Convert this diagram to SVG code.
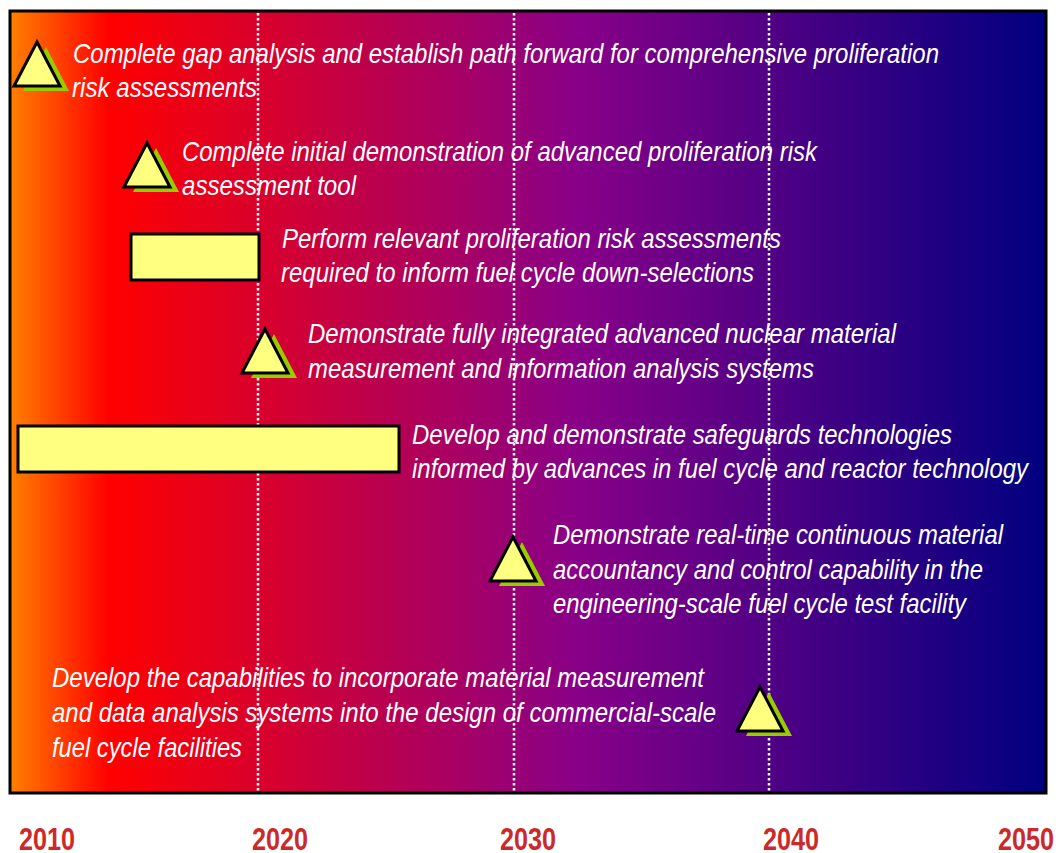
<svg xmlns="http://www.w3.org/2000/svg" width="1058" height="853" viewBox="0 0 1058 853">
  <defs>
    <linearGradient id="bg" x1="10" y1="0" x2="1046" y2="0" gradientUnits="userSpaceOnUse">
      <stop offset="0" stop-color="#FF8000"/>
      <stop offset="0.095" stop-color="#FF0000"/>
      <stop offset="0.55" stop-color="#880088"/>
      <stop offset="1" stop-color="#000080"/>
    </linearGradient>
    <g id="tri">
      <polygon class="shadow" points="9,5 32,49 -14,49"/>
      <polygon class="mark" points="0,0 23,44 -23,44"/>
    </g>
  </defs>
  <style>
    .lbl { font-family: "Liberation Sans", Arial, sans-serif; font-style: italic; font-size: 28px; fill: #FFFFFF; }
    .year { font-family: "Liberation Sans", Arial, sans-serif; font-size: 32px; font-weight: bold; fill: #CC2A2A; text-anchor: middle; }
    .grid { stroke: #FFFFFF; stroke-width: 2.5; stroke-dasharray: 2.5 2.5; fill: none; }
    .mark { fill: #FFFF80; stroke: #000000; stroke-width: 3; stroke-linejoin: miter; }
    .shadow { fill: #99CC00; }
    .bar { fill: #FFFF80; stroke: #000000; stroke-width: 3; }
  </style>

  <g id="background">
    <rect x="0" y="0" width="1058" height="853" fill="#FFFFFF"/>
    <rect x="10" y="11" width="1036" height="782" fill="url(#bg)" stroke="#000000" stroke-width="3"/>
  </g>

  <g id="labels">
    <text class="lbl" x="73" y="63" textLength="866" lengthAdjust="spacingAndGlyphs">Complete gap analysis and establish path forward for comprehensive proliferation</text>
    <text class="lbl" x="72" y="97" textLength="185" lengthAdjust="spacingAndGlyphs">risk assessments</text>
    <text class="lbl" x="182" y="161" textLength="635" lengthAdjust="spacingAndGlyphs">Complete initial demonstration of advanced proliferation risk</text>
    <text class="lbl" x="182" y="195" textLength="174" lengthAdjust="spacingAndGlyphs">assessment tool</text>
    <text class="lbl" x="282" y="248" textLength="499" lengthAdjust="spacingAndGlyphs">Perform relevant proliferation risk assessments</text>
    <text class="lbl" x="281" y="282" textLength="473" lengthAdjust="spacingAndGlyphs">required to inform fuel cycle down-selections</text>
    <text class="lbl" x="308" y="343" textLength="588" lengthAdjust="spacingAndGlyphs">Demonstrate fully integrated advanced nuclear material</text>
    <text class="lbl" x="308" y="378" textLength="506" lengthAdjust="spacingAndGlyphs">measurement and information analysis systems</text>
    <text class="lbl" x="412" y="444" textLength="540" lengthAdjust="spacingAndGlyphs">Develop and demonstrate safeguards technologies</text>
    <text class="lbl" x="412" y="478" textLength="616" lengthAdjust="spacingAndGlyphs">informed by advances in fuel cycle and reactor technology</text>
    <text class="lbl" x="553" y="544" textLength="450" lengthAdjust="spacingAndGlyphs">Demonstrate real-time continuous material</text>
    <text class="lbl" x="553" y="579" textLength="430" lengthAdjust="spacingAndGlyphs">accountancy and control capability in the</text>
    <text class="lbl" x="553" y="613" textLength="413" lengthAdjust="spacingAndGlyphs">engineering-scale fuel cycle test facility</text>
    <text class="lbl" x="52" y="687" textLength="652" lengthAdjust="spacingAndGlyphs">Develop the capabilities to incorporate material measurement</text>
    <text class="lbl" x="52" y="722" textLength="664" lengthAdjust="spacingAndGlyphs">and data analysis systems into the design of commercial-scale</text>
    <text class="lbl" x="52" y="757" textLength="190" lengthAdjust="spacingAndGlyphs">fuel cycle facilities</text>
  </g>

  <g id="connectors">
    <line class="grid" x1="258" y1="13" x2="258" y2="791"/>
    <line class="grid" x1="514" y1="13" x2="514" y2="791"/>
    <line class="grid" x1="769" y1="13" x2="769" y2="791"/>
  </g>

  <g id="milestone-gap-analysis"><use href="#tri" x="37" y="42"/></g>
  <g id="milestone-initial-demo"><use href="#tri" x="147" y="143"/></g>
  <g id="bar-risk-assessments"><rect class="bar" x="131" y="234" width="128" height="46"/></g>
  <g id="milestone-integrated-systems"><use href="#tri" x="265" y="329"/></g>
  <g id="bar-safeguards"><rect class="bar" x="18" y="426" width="381" height="46"/></g>
  <g id="milestone-real-time-mc"><use href="#tri" x="513" y="537"/></g>
  <g id="milestone-commercial-design"><use href="#tri" x="760" y="687"/></g>

  <g id="axis">
    <text class="year" x="47" y="850" textLength="56" lengthAdjust="spacingAndGlyphs">2010</text>
    <text class="year" x="280" y="850" textLength="56" lengthAdjust="spacingAndGlyphs">2020</text>
    <text class="year" x="528" y="850" textLength="56" lengthAdjust="spacingAndGlyphs">2030</text>
    <text class="year" x="791" y="850" textLength="56" lengthAdjust="spacingAndGlyphs">2040</text>
    <text class="year" x="1026" y="850" textLength="56" lengthAdjust="spacingAndGlyphs">2050</text>
  </g>
</svg>
